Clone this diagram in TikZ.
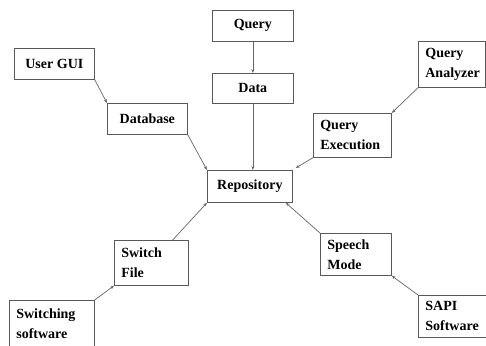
\documentclass[tikz,border=0pt]{standalone}
\usepackage{fontspec}
\setmainfont{Liberation Serif}
\usetikzlibrary{arrows.meta,calc}
\tikzset{
  box/.style={draw=black!65, line width=0.7pt, anchor=north west, inner xsep=7pt, inner ysep=0pt,
    font=\fontsize{14}{20}\selectfont\bfseries},
  cbox/.style={box, align=center},
  lbox/.style={box, align=left},
  conn/.style={draw=black!60, line width=0.7pt, -{Stealth[length=4pt,width=3pt]}}
}
\begin{document}
\begin{tikzpicture}[x=1pt,y=-1pt]
\useasboundingbox (0,0) rectangle (486,345);
\begin{scope}
\clip (0,0) rectangle (486,345);
\node[cbox, minimum width=81pt, minimum height=31pt] (query) at (212,10) {Query};
\node[cbox, minimum width=81pt, minimum height=30pt] (data) at (212,73) {Data};
\node[cbox, minimum width=80pt, minimum height=31pt] (usergui) at (14,48) {User GUI};
\node[cbox, minimum width=80pt, minimum height=31pt] (database) at (107,103) {Database};
\node[lbox, text width=53pt, minimum height=46pt] (qa) at (418,41) {Query\\Analyzer};
\node[lbox, text width=64pt, minimum height=44pt] (qe) at (313,113) {Query\\Execution};
\node[cbox, minimum width=85pt, minimum height=32pt] (repo) at (207,170) {Repository};
\node[lbox, text width=60pt, minimum height=45pt] (sf) at (114,240) {Switch\\File};
\node[lbox, text width=71pt, minimum height=46pt] (sw) at (9,300) {Switching\\software};
\node[lbox, text width=57pt, minimum height=42pt] (sm) at (320,233) {Speech\\Mode};
\node[lbox, text width=55pt, minimum height=42pt] (sapi) at (418,295) {SAPI\\Software};
\end{scope}
\draw[conn] (query.south) -- (data.north);
\draw[conn] (data.south) -- (repo.north -| data.south);
\draw[conn] (usergui.south east) -- (database.north west);
\draw[conn] (database.south east) -- (repo.north west);
\draw[conn] (qa.south west) -- (qe.north east);
\draw[conn] (qe.south west) -- ($(repo.north east)+(3,-2)$);
\draw[conn] ($(sf.north east)+(-16,0)$) -- (repo.south west);
\draw[conn] (sw.north east) -- (sf.south west);
\draw[conn] (sm.north west) -- ($(repo.south east)+(-7,0)$);
\draw[conn] (sapi.north west) -- (sm.south east);
\end{tikzpicture}
\end{document}
